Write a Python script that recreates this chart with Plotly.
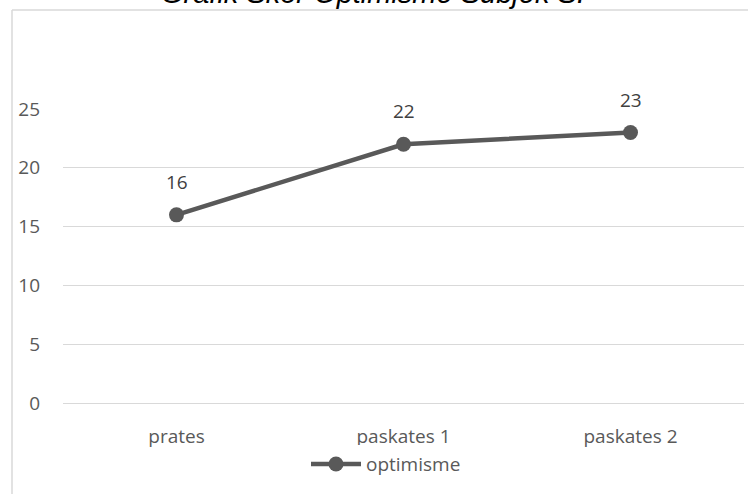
import plotly.graph_objects as go

# Optimism scores per measurement session
sessions = ["prates", "paskates 1", "paskates 2"]
scores = [16, 22, 23]
y_ticks = [0, 5, 10, 15, 20, 25]

GREY = "#595959"
GRID = "#d9d9d9"
FONT = "Open Sans, Liberation Sans, sans-serif"

fig = go.Figure()
fig.add_trace(go.Scatter(
    x=sessions,
    y=scores,
    mode="lines+markers",
    name="optimisme",
    line=dict(color=GREY, width=4.5),
    marker=dict(color=GREY, size=15),
    cliponaxis=False,
))

# value labels placed above each point
value_labels = [
    dict(text=str(v), x=s, y=v, xref="x", yref="y",
         yshift=33, xanchor="center", yanchor="middle", showarrow=False,
         font=dict(family=FONT, size=19, color="#404040"))
    for s, v in zip(sessions, scores)
]

fig.update_layout(
    width=748,
    height=494,
    margin=dict(l=63, r=4, t=109, b=91),
    paper_bgcolor="white",
    plot_bgcolor="white",
    font=dict(family=FONT, size=19, color=GREY),
    showlegend=True,
    legend=dict(
        orientation="h",
        x=(306 - 63) / 681, xanchor="left",
        y=-0.208, yanchor="middle",
        font=dict(family=FONT, size=19, color=GREY),
        itemwidth=50,
    ),
    xaxis=dict(
        type="category",
        range=[-0.5, 2.5],
        showgrid=False,
        showline=True,
        linecolor=GRID,
        linewidth=1,
        ticks="",
        tickfont=dict(family=FONT, size=19, color=GREY),
        ticklabelstandoff=16,
    ),
    yaxis=dict(
        range=[0, 25],
        tickvals=y_ticks,
        showgrid=True,
        gridcolor=GRID,
        gridwidth=1,
        zeroline=False,
        showline=False,
        ticks="",
        tickfont=dict(family=FONT, size=19, color=GREY),
        ticklabelstandoff=22,
    ),
    shapes=[
        # outer chart frame (top and left edges)
        dict(type="line", xref="paper", yref="paper",
             x0=-51 / 681, x1=1.01, y0=(403 - 10) / 294, y1=(403 - 10) / 294,
             line=dict(color=GRID, width=1.5)),
        dict(type="line", xref="paper", yref="paper",
             x0=-51 / 681, x1=-51 / 681, y0=(403 - 10) / 294, y1=-0.35,
             line=dict(color=GRID, width=1.5)),
    ],
    annotations=value_labels + [
        dict(text="<i>Grafik Skor Optimisme Subjek S.</i>",
             xref="paper", yref="paper",
             x=(373 - 63) / 681, y=(403 + 7) / 294,
             xanchor="center", yanchor="middle",
             showarrow=False,
             font=dict(family="Liberation Sans, Arial, sans-serif", size=29, color="#000000")),
    ],
)

fig.write_html("out.html")
